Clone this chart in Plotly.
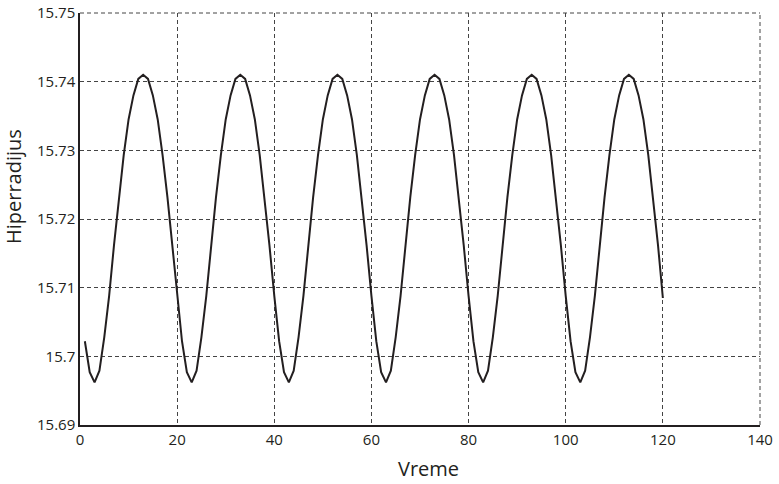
import plotly.graph_objects as go

time = list(range(1, 121))
hiperradijus = [
    15.7022, 15.6977, 15.6962, 15.6979, 15.7028, 15.7088, 15.7162, 15.7232, 15.7293, 15.7345,
    15.7380, 15.7404, 15.7410, 15.7404, 15.7380, 15.7345, 15.7293, 15.7232, 15.7162, 15.7088,
    15.7022, 15.6977, 15.6962, 15.6979, 15.7028, 15.7088, 15.7162, 15.7232, 15.7293, 15.7345,
    15.7380, 15.7404, 15.7410, 15.7404, 15.7380, 15.7345, 15.7293, 15.7232, 15.7162, 15.7088,
    15.7022, 15.6977, 15.6962, 15.6979, 15.7028, 15.7088, 15.7162, 15.7232, 15.7293, 15.7345,
    15.7380, 15.7404, 15.7410, 15.7404, 15.7380, 15.7345, 15.7293, 15.7232, 15.7162, 15.7088,
    15.7022, 15.6977, 15.6962, 15.6979, 15.7028, 15.7088, 15.7162, 15.7232, 15.7293, 15.7345,
    15.7380, 15.7404, 15.7410, 15.7404, 15.7380, 15.7345, 15.7293, 15.7232, 15.7162, 15.7088,
    15.7022, 15.6977, 15.6962, 15.6979, 15.7028, 15.7088, 15.7162, 15.7232, 15.7293, 15.7345,
    15.7380, 15.7404, 15.7410, 15.7404, 15.7380, 15.7345, 15.7293, 15.7232, 15.7162, 15.7088,
    15.7022, 15.6977, 15.6962, 15.6979, 15.7028, 15.7088, 15.7162, 15.7232, 15.7293, 15.7345,
    15.7380, 15.7404, 15.7410, 15.7404, 15.7380, 15.7345, 15.7293, 15.7232, 15.7162, 15.7085,
]

x_ticks = [0, 20, 40, 60, 80, 100, 120, 140]
y_ticks = [15.69, 15.70, 15.71, 15.72, 15.73, 15.74, 15.75]
y_tick_text = ["15.69", "15.7", "15.71", "15.72", "15.73", "15.74", "15.75"]

FONT = "Open Sans"
GRID_COLOR = "#444444"
GRID_DASH = "4px,3px"
TEXT_COLOR = "#231f20"

fig = go.Figure()
fig.add_trace(go.Scatter(
    x=time, y=hiperradijus, mode="lines",
    line=dict(color="#231f20", width=2),
    showlegend=False, hoverinfo="skip",
))

grid = dict(showgrid=True, gridcolor=GRID_COLOR, griddash=GRID_DASH, gridwidth=1)

fig.update_layout(
    width=779, height=484,
    margin=dict(l=80, r=19, t=13, b=59),
    paper_bgcolor="white", plot_bgcolor="white",
    font=dict(family=FONT, color=TEXT_COLOR),
    xaxis=dict(
        range=[0, 140], tickvals=x_ticks, ticks="", **grid,
        showline=True, linecolor="#231f20", linewidth=1.5,
        zeroline=False, automargin=False, ticklabeloverflow="allow",
        tickfont=dict(size=15, family=FONT),
    ),
    yaxis=dict(
        range=[15.69, 15.75], tickvals=y_ticks, ticktext=y_tick_text, ticks="", **grid,
        showline=True, linecolor="#231f20", linewidth=1.5,
        zeroline=False, automargin=False, ticklabeloverflow="allow",
        tickfont=dict(size=15, family=FONT),
    ),
    shapes=[
        dict(type="line", xref="paper", yref="paper", x0=0, x1=1, y0=1, y1=1,
             line=dict(color=GRID_COLOR, width=1, dash=GRID_DASH), layer="below"),
        dict(type="line", xref="paper", yref="paper", x0=1, x1=1, y0=0, y1=1,
             line=dict(color=GRID_COLOR, width=1, dash=GRID_DASH), layer="below"),
    ],
    annotations=[
        dict(text="Vreme", xref="paper", yref="paper", x=(428 - 80) / 680, y=(425 - 468) / 412,
             xanchor="center", yanchor="middle", showarrow=False,
             font=dict(size=20, family=FONT, color=TEXT_COLOR)),
        dict(text="Hiperradijus", xref="paper", yref="paper", x=(13 - 80) / 680, y=(425 - 187) / 412,
             xanchor="center", yanchor="middle", textangle=-90, showarrow=False,
             font=dict(size=20, family=FONT, color=TEXT_COLOR)),
    ],
)

fig.write_html("out.html", config={"displayModeBar": False},
               post_script="document.body.style.margin='0';")
